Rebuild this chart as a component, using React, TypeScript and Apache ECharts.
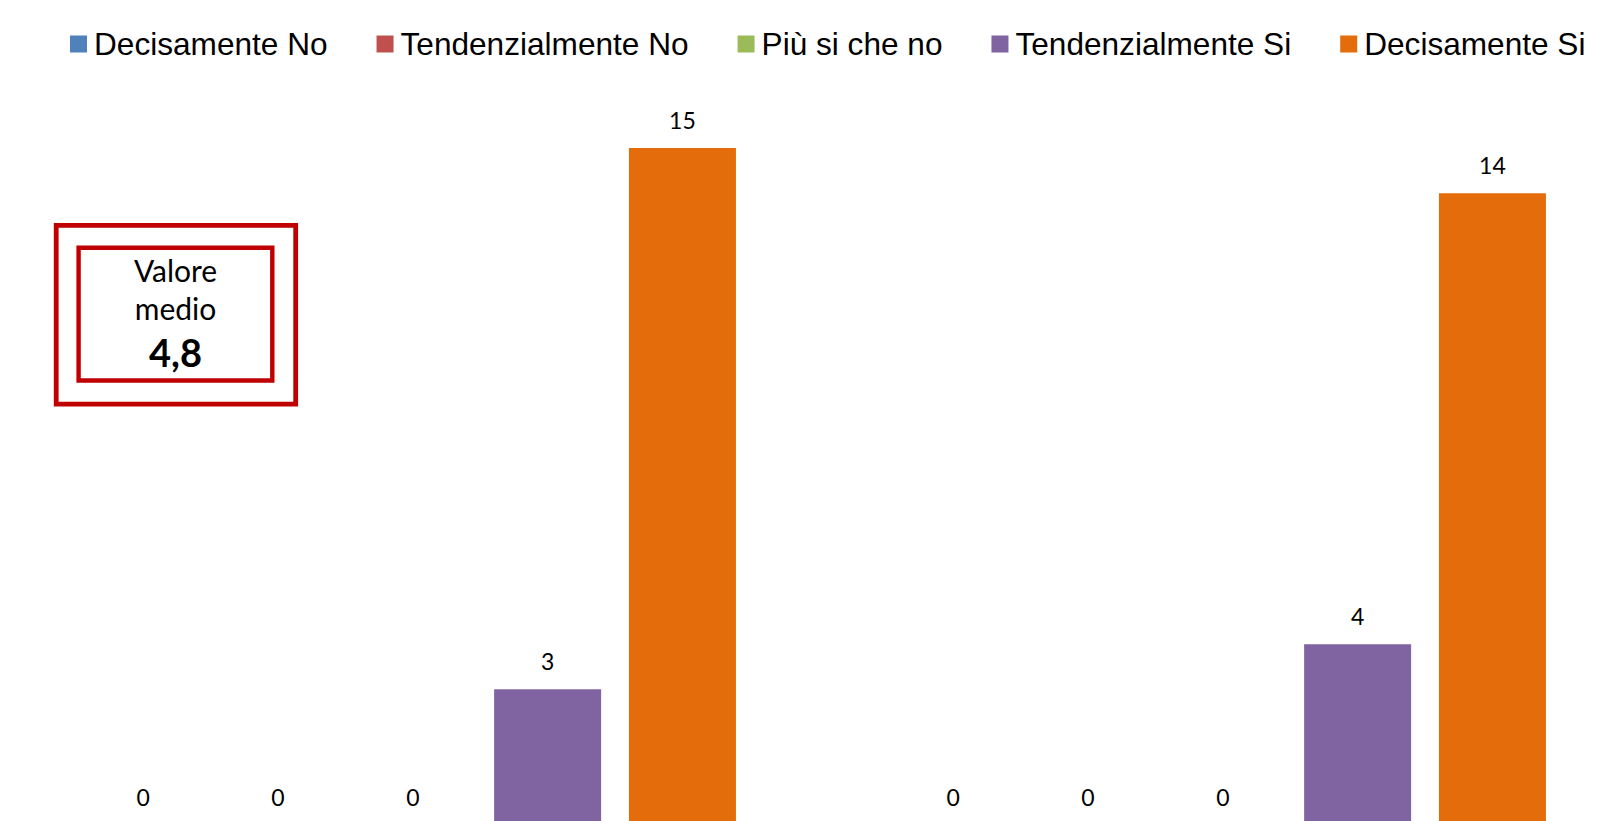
import React, { useEffect, useRef } from "react";
import * as echarts from "echarts";

const categories = ["Domanda A", "Domanda B"];
const seriesNames = [
  "Decisamente No",
  "Tendenzialmente No",
  "Più si che no",
  "Tendenzialmente Si",
  "Decisamente Si",
];
const decisamenteNo = [0, 0];
const tendenzialmenteNo = [0, 0];
const piuSiCheNo = [0, 0];
const tendenzialmenteSi = [3, 4];
const decisamenteSi = [15, 14];
const seriesColors = ["#4F81BD", "#C0504D", "#9BBB59", "#8064A2", "#E46C0A"];
const boxTitle = ["Valore", "medio"];
const boxValue = "4,8";

export default function App() {
  const ref = useRef<HTMLDivElement>(null);
  useEffect(() => {
    if (!ref.current) return;
    const chart = echarts.init(ref.current, undefined, { renderer: "svg" });
    const allData = [decisamenteNo, tendenzialmenteNo, piuSiCheNo, tendenzialmenteSi, decisamenteSi];
    chart.setOption({
      animation: false,
      backgroundColor: "#ffffff",
      legend: {
        left: 70,
        top: 28,
        padding: 0,
        itemGap: 49,
        itemWidth: 17,
        itemHeight: 17,
        icon: "rect",
        textStyle: {
          fontFamily: "Arial, 'Liberation Sans', sans-serif",
          fontSize: 31.6,
          color: "#000000",
          padding: [0, 0, 0, 2],
        },
        data: seriesNames,
      },
      grid: { left: 7.8, width: 1620, top: 103, height: 721.6, containLabel: false },
      xAxis: {
        type: "category",
        data: categories,
        axisLine: { show: false },
        axisTick: { show: false },
        axisLabel: { show: false },
        splitLine: { show: false },
      },
      yAxis: {
        type: "value",
        min: 0,
        max: 16,
        show: false,
        splitLine: { show: false },
      },
      series: seriesNames.map((name, i) => ({
        name,
        type: "bar",
        data: allData[i],
        barWidth: 107,
        barGap: "26%",
        itemStyle: { color: seriesColors[i] },
        label: {
          show: true,
          position: "top",
          distance: 16.5,
          fontFamily: "Lato, 'Open Sans', sans-serif",
          fontSize: 23,
          color: "#000000",
        },
      })),
      graphic: [
        {
          type: "rect",
          shape: { x: 56.2, y: 225.4, width: 239.5, height: 178.7 },
          style: { fill: "none", stroke: "#C00000", lineWidth: 4.8 },
        },
        {
          type: "rect",
          shape: { x: 78.6, y: 247.8, width: 193.7, height: 132.7 },
          style: { fill: "none", stroke: "#C00000", lineWidth: 4.4 },
        },
        {
          type: "text",
          x: 175.5,
          y: 269.5,
          style: {
            text: boxTitle[0],
            fontFamily: "Lato, 'Open Sans', sans-serif",
            fontSize: 30,
            fill: "#000000",
            align: "center",
            verticalAlign: "middle",
          },
        },
        {
          type: "text",
          x: 175.5,
          y: 307.5,
          style: {
            text: boxTitle[1],
            fontFamily: "Lato, 'Open Sans', sans-serif",
            fontSize: 30,
            fill: "#000000",
            align: "center",
            verticalAlign: "middle",
          },
        },
        {
          type: "text",
          x: 175.5,
          y: 351.5,
          style: {
            text: boxValue,
            fontFamily: "Lato, 'Open Sans', sans-serif",
            fontSize: 38,
            fontWeight: "bold",
            fill: "#000000",
            align: "center",
            verticalAlign: "middle",
          },
        },
      ],
    });
    return () => chart.dispose();
  }, []);
  return (
    <div
      style={{
        position: "absolute",
        left: 0,
        top: 0,
        width: 1618,
        height: 821,
        overflow: "hidden",
        background: "#ffffff",
      }}
    >
      <div ref={ref} style={{ width: 1640, height: 840 }} />
    </div>
  );
}
